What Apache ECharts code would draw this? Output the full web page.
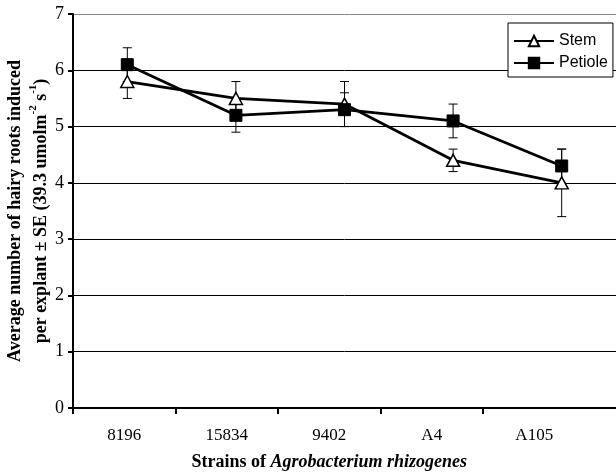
<!DOCTYPE html>
<html>
<head>
<meta charset="utf-8">
<script src="https://cdn.jsdelivr.net/npm/echarts@6/dist/echarts.min.js"></script>
<style>html,body{margin:0;padding:0;background:#fff}#c{width:616px;height:472px}</style>
</head>
<body>
<div id="c"></div>
<script>
const categories = ['8196', '15834', '9402', 'A4', 'A105'];
const stem = [5.8, 5.5, 5.4, 4.4, 4.0];
const stemSE = [0.3, 0.3, 0.4, 0.2, 0.6];
const petiole = [6.1, 5.2, 5.3, 5.1, 4.3];
const petioleSE = [0.3, 0.3, 0.3, 0.3, 0.3];
const yMin = 0, yMax = 7, yStep = 1;

const SERIF = '"Liberation Serif", "Times New Roman", serif';
const SANS = '"Liberation Sans", Arial, sans-serif';

function errData(vals, se) {
  return vals.map((v, i) => [i, v - se[i], v + se[i]]);
}
function renderErr(params, api) {
  const x = api.value(0);
  const lo = api.coord([x, api.value(1)]);
  const hi = api.coord([x, api.value(2)]);
  const w = 4.5;
  const st = { stroke: '#000', lineWidth: 1 };
  return {
    type: 'group',
    children: [
      { type: 'line', shape: { x1: lo[0], y1: lo[1], x2: hi[0], y2: hi[1] }, style: st },
      { type: 'line', shape: { x1: lo[0] - w, y1: lo[1], x2: lo[0] + w, y2: lo[1] }, style: st },
      { type: 'line', shape: { x1: hi[0] - w, y1: hi[1], x2: hi[0] + w, y2: hi[1] }, style: st }
    ]
  };
}

const chart = echarts.init(document.getElementById('c'), null, { renderer: 'canvas' });
chart.setOption({
  animation: false,
  backgroundColor: '#fff',
  grid: [
    { left: 73, right: 0, top: 14, bottom: 64, outerBoundsMode: 'none', containLabel: false },
    { left: 73, width: 410, top: 14, bottom: 64, outerBoundsMode: 'none', containLabel: false },
    { left: 73, width: 512.5, top: 14, bottom: 64, outerBoundsMode: 'none', containLabel: false }
  ],
  legend: {
    data: ['Stem', 'Petiole'],
    orient: 'vertical',
    left: 508, top: 23,
    padding: [10, 5, 6, 5],
    itemGap: 6,
    itemWidth: 40, itemHeight: 13,
    backgroundColor: '#fff',
    borderColor: '#000', borderWidth: 1,
    textStyle: { fontFamily: SANS, fontSize: 16, color: '#000' }
  },
  xAxis: [
    { gridIndex: 0, type: 'category', data: categories, boundaryGap: true,
      axisLine: { show: true, lineStyle: { color: '#000', width: 2 } },
      axisTick: { show: false }, axisLabel: { show: false }, splitLine: { show: false } },
    { gridIndex: 1, type: 'value', min: 0, max: 4, interval: 1,
      axisLine: { show: false },
      axisTick: { show: true, inside: false, length: 6, lineStyle: { color: '#000', width: 2 } },
      axisLabel: { show: false }, splitLine: { show: false } },
    { gridIndex: 2, type: 'category', data: categories, boundaryGap: true,
      axisLine: { show: false }, axisTick: { show: false }, splitLine: { show: false },
      axisLabel: { show: true, margin: 19, fontFamily: SERIF, fontSize: 17, color: '#000' },
      name: '{b|Strains of }{i|Agrobacterium rhizogenes}',
      nameLocation: 'middle', nameGap: 45, nameMoveOverlap: false,
      nameTextStyle: {
        rich: {
          b: { fontFamily: SERIF, fontSize: 18, fontWeight: 'bold', color: '#000' },
          i: { fontFamily: SERIF, fontSize: 18, fontWeight: 'bold', fontStyle: 'italic', color: '#000' }
        }
      } }
  ],
  yAxis: [
    { gridIndex: 0, type: 'value', min: yMin, max: yMax, interval: yStep,
      axisLine: { show: true, lineStyle: { color: '#000', width: 2 } },
      axisTick: { show: true, inside: false, length: 5, lineStyle: { color: '#000', width: 2 } },
      axisLabel: { margin: 9, fontFamily: SERIF, fontSize: 18, color: '#000' },
      splitLine: { show: true, lineStyle: { color: ['#000', '#000', '#000', '#000', '#000', '#000', '#000', '#888'], width: 1 } },
      name: '{a|Average number of hairy roots induced}\n{a|per explant ± SE (39.3 umolm}{s|-2}{a| s}{s|-1}{a|)}',
      nameLocation: 'middle', nameGap: 19, nameMoveOverlap: false,
      nameTextStyle: {
        rich: {
          a: { fontFamily: SERIF, fontSize: 18, fontWeight: 'bold', color: '#000', lineHeight: 26 },
          s: { fontFamily: SERIF, fontSize: 11, fontWeight: 'bold', color: '#000', lineHeight: 12, verticalAlign: 'top' }
        }
      } },
    { gridIndex: 1, type: 'value', min: yMin, max: yMax, show: false },
    { gridIndex: 2, type: 'value', min: yMin, max: yMax, show: false }
  ],
  series: [
    { type: 'custom', name: 'StemErr', xAxisIndex: 0, yAxisIndex: 0, z: 1,
      renderItem: renderErr, data: errData(stem, stemSE), encode: { x: 0, y: [1, 2] } },
    { type: 'custom', name: 'PetioleErr', xAxisIndex: 0, yAxisIndex: 0, z: 1,
      renderItem: renderErr, data: errData(petiole, petioleSE), encode: { x: 0, y: [1, 2] } },
    { type: 'line', name: 'Stem', xAxisIndex: 0, yAxisIndex: 0, z: 3, data: stem,
      symbol: 'triangle', symbolSize: [13, 12],
      lineStyle: { color: '#000', width: 2.8 },
      itemStyle: { color: '#fff', borderColor: '#000', borderWidth: 1.5 } },
    { type: 'line', name: 'Petiole', xAxisIndex: 0, yAxisIndex: 0, z: 4, data: petiole,
      symbol: 'rect', symbolSize: 12,
      lineStyle: { color: '#000', width: 2.8 },
      itemStyle: { color: '#000', borderColor: '#000', borderWidth: 1 } }
  ]
});
</script>
</body>
</html>
